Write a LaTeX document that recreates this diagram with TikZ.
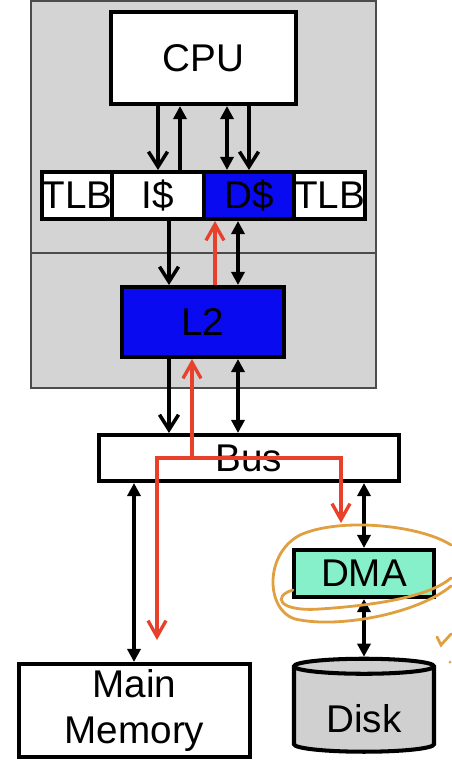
\documentclass[tikz,border=0pt]{standalone}
\usepackage{fontspec}
\setmainfont{Liberation Sans}
\usetikzlibrary{arrows.meta,shapes.geometric}
\definecolor{chipGrey}{HTML}{D4D4D4}
\definecolor{cacheBlue}{HTML}{0A0AF0}
\definecolor{dmaGreen}{HTML}{86F0CA}
\definecolor{pathRed}{HTML}{E8402A}
\definecolor{penOrange}{HTML}{E0A040}
\definecolor{diskGrey}{HTML}{D0D0D0}
\tikzset{
  >={Triangle[length=2.6mm,width=2.6mm]},
  unit/.style={draw, line width=2.3pt, fill=white, inner sep=0pt,
              font=\fontsize{22}{26}\selectfont, align=center},
  cache/.style={unit, minimum height=0.94cm},
  flow/.style={-{Straight Barb[length=3mm,width=3.8mm]}, line width=2pt},
  biflow/.style={<->, line width=2pt},
  upflow/.style={->, line width=2pt},
  hit/.style={-{Straight Barb[length=3.2mm,width=3.6mm]}, draw=pathRed, line width=1.9pt},
  pen/.style={draw=penOrange, line width=1.6pt, line cap=round},
}

\begin{document}
\begin{tikzpicture}[x=0.02cm,y=-0.02cm]
  \useasboundingbox (0,0) rectangle (451,777);
  \draw[fill=chipGrey, draw=black!70, line width=0.9pt] (31,1) rectangle (376,388);
  \draw[draw=black!70, line width=0.9pt] (31,253) -- (376,253);

  \node[unit, minimum width=3.7cm, minimum height=1.84cm] (cpu) at (203.5,58) {CPU};
  \node[cache, minimum width=1.4cm] (tlbi) at (77,195.5) {TLB};
  \node[cache, minimum width=1.84cm] (icache) at (158,195.5) {I\$};
  \node[cache, fill=cacheBlue, minimum width=1.8cm] (dcache) at (249,195.5) {D\$};
  \node[cache, minimum width=1.42cm] (tlbd) at (329.5,195.5) {TLB};
  \node[unit, fill=cacheBlue, minimum width=3.24cm, minimum height=1.4cm] (ltwo) at (203,322) {L2};
  \node[unit, minimum width=6cm, minimum height=0.92cm] (bus) at (249,458) {Bus};
  \node[unit, fill=dmaGreen, minimum width=2.8cm, minimum height=0.94cm] (dma) at (364,573.5) {DMA};
  \node[unit, minimum width=4.62cm, minimum height=1.86cm] (mem) at (134.5,710.5) {Main\\Memory};
  \node[unit, cylinder, shape border rotate=90, aspect=0.2, fill=diskGrey,
        minimum width=2.8cm, minimum height=1.86cm] (disk) at (364,710)
        {\raisebox{-13pt}[0pt][0pt]{Disk}};

  \draw[flow] (158,0 |- cpu.south) -- (158,0 |- icache.north);
  \draw[upflow] (180,0 |- icache.north) -- (180,0 |- cpu.south);
  \draw[biflow] (227,0 |- cpu.south) -- (227,0 |- dcache.north);
  \draw[flow] (249,0 |- cpu.south) -- (249,0 |- dcache.north);
  \draw[flow] (169,0 |- icache.south) -- (169,0 |- ltwo.north);
  \draw[biflow] (238,0 |- dcache.south) -- (238,0 |- ltwo.north);
  \draw[flow] (169,0 |- ltwo.south) -- (169,0 |- bus.north);
  \draw[biflow] (238,0 |- ltwo.south) -- (238,0 |- bus.north);
  \draw[biflow] (134,0 |- bus.south) -- (134,0 |- mem.north);
  \draw[biflow] (364,0 |- bus.south) -- (dma.north);
  \draw[biflow] (dma.south) -- (disk.north);

  \coordinate (split) at (192,458);
  \coordinate (memdrop) at (157,640);
  \coordinate (dmadrop) at (341,523);
  \draw[hit] (215,0 |- ltwo.north) -- (215,0 |- dcache.south);
  \draw[hit] (split) -- (192,0 |- ltwo.south);
  \draw[hit] (split) -| (memdrop);
  \draw[hit] (split) -| (dmadrop);

  \draw[pen] (293,590) .. controls (272,596) and (278,612) .. (320,609)
             .. controls (380,605) and (430,596) .. (451,578);
  \draw[pen] (451,545) .. controls (420,525) and (340,517) .. (300,535)
             .. controls (262,555) and (266,616) .. (300,620)
             .. controls (345,628) and (420,612) .. (451,586);
  \draw[pen] (437,637) -- (441,645) -- (451,634);
  \fill[penOrange] (450,662) circle (1.5);
\end{tikzpicture}
\end{document}
